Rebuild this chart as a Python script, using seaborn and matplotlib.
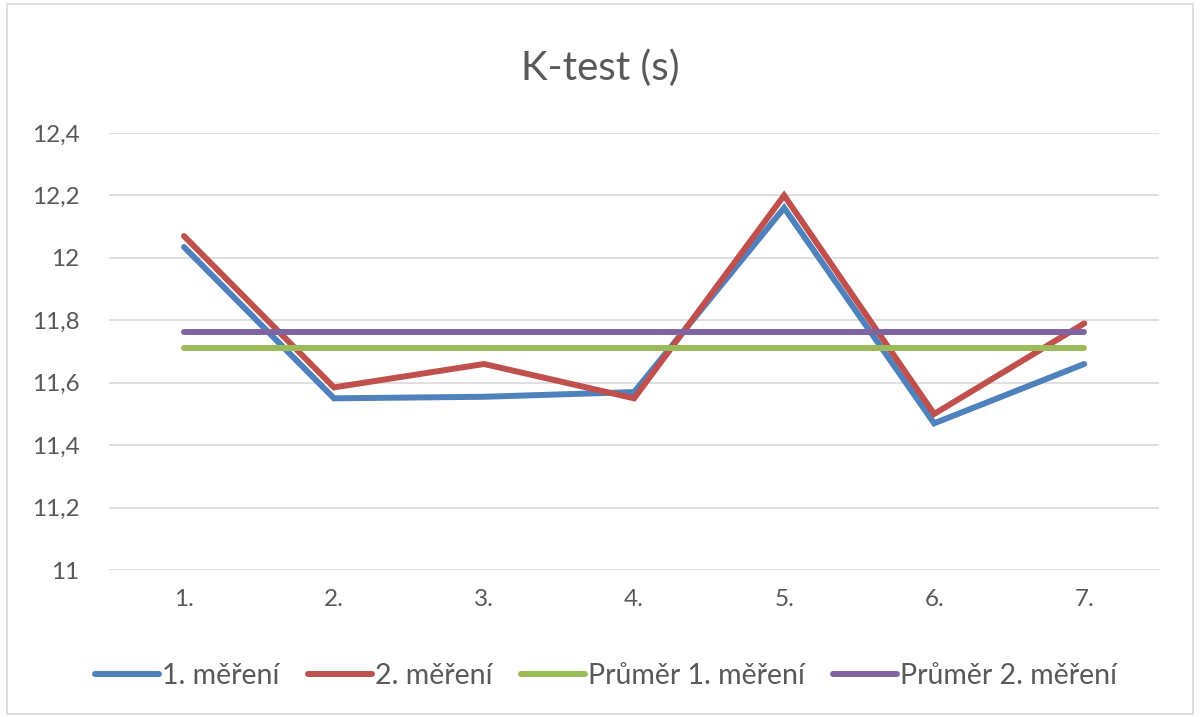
import matplotlib
matplotlib.use("Agg")
import matplotlib.pyplot as plt
import matplotlib.ticker as mticker
from matplotlib.patches import Rectangle
import pandas as pd
import seaborn as sns

# values
rounds = ["1.", "2.", "3.", "4.", "5.", "6.", "7."]
mereni_1 = [12.035, 11.55, 11.555, 11.57, 12.16, 11.47, 11.66]
mereni_2 = [12.07, 11.585, 11.66, 11.55, 12.20, 11.50, 11.79]
prumer_1 = [11.71, 11.71, 11.71, 11.71, 11.71, 11.71, 11.71]
prumer_2 = [11.763, 11.763, 11.763, 11.763, 11.763, 11.763, 11.763]
series_names = ["1. měření", "2. měření", "Průměr 1. měření", "Průměr 2. měření"]
colors = ["#4F81BD", "#C0504D", "#9BBB59", "#8064A2"]

rows = []
for name, vals in zip(series_names, [mereni_1, mereni_2, prumer_1, prumer_2]):
    for i, v in enumerate(vals):
        rows.append({"pos": i, "kolo": rounds[i], "serie": name, "cas": v})
df = pd.DataFrame(rows)

sns.set_theme(style="white")
plt.rcParams["font.family"] = ["Lato", "DejaVu Sans"]

fig = plt.figure(figsize=(12, 7.17), dpi=100)
ax = fig.add_axes([0.0908, 0.205, 0.8752, 0.6095])

sns.lineplot(data=df, x="pos", y="cas", hue="serie", hue_order=series_names,
             palette=colors, linewidth=4.3, ax=ax, legend=False,
             solid_capstyle="round", solid_joinstyle="miter")

ax.set_xlim(-0.5, 6.5)
ax.set_ylim(11, 12.4)
ax.set_yticks([11, 11.2, 11.4, 11.6, 11.8, 12, 12.2, 12.4])
ax.yaxis.set_major_formatter(mticker.FuncFormatter(lambda v, p: f"{v:g}".replace(".", ",")))
ax.set_xticks(range(len(rounds)))
ax.set_xticklabels(rounds)
ax.tick_params(axis="both", length=0, labelsize=17.5, labelcolor="#595959")
ax.tick_params(axis="y", pad=21)
ax.tick_params(axis="x", pad=14)
ax.grid(axis="y", color="#D9D9D9", linewidth=1.2)
ax.set_axisbelow(True)
for s in ax.spines.values():
    s.set_visible(False)
ax.set_xlabel("")
ax.set_ylabel("")

fig.text(0.5, 0.905, "K-test (s)", ha="center", va="center", fontsize=29, color="#595959")

handles = [plt.Line2D([0], [0], color=c, linewidth=4.3, solid_capstyle="round") for c in colors]
fig.legend(handles, series_names, loc="center", bbox_to_anchor=(0.505, 0.057), ncol=4,
           frameon=False, fontsize=20.5, handlelength=2.25, handletextpad=0.1,
           columnspacing=1.0, labelcolor="#595959")

fig.patches.append(Rectangle((0.006, 0.004), 0.988, 0.99, transform=fig.transFigure,
                             fill=False, edgecolor="#D9D9D9", linewidth=1.2))

fig.savefig("out.png", dpi=100, facecolor="white")
